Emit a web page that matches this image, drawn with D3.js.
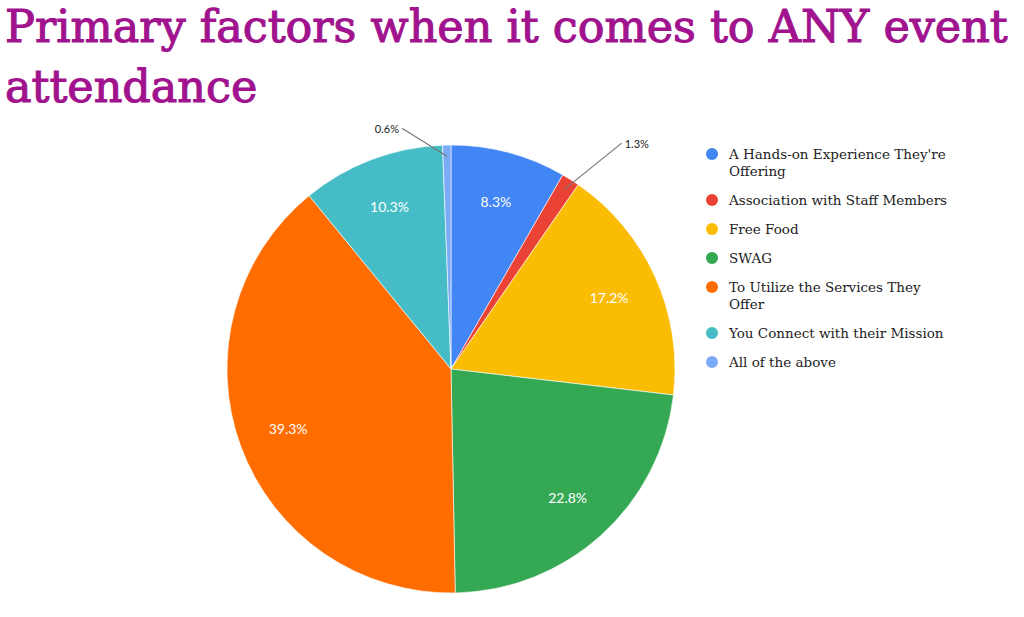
<!DOCTYPE html>
<html>
<head>
<meta charset="utf-8">
<script src="https://cdn.jsdelivr.net/npm/d3@7"></script>
<style>
  body { margin: 0; background: #fff; }
  svg { display: block; }
</style>
</head>
<body>
<svg id="chart" width="1024" height="617"></svg>
<script>
// data
var categorias = [
  "A Hands-on Experience They're Offering",
  "Association with Staff Members",
  "Free Food",
  "SWAG",
  "To Utilize the Services They Offer",
  "You Connect with their Mission",
  "All of the above"
];
var valores = [8.3, 1.3, 17.2, 22.8, 39.3, 10.3, 0.6];
var colores = ["#4285f4", "#ea4335", "#fbbc04", "#34a853", "#ff6d01", "#46bdc6", "#7baaf7"];
var tituloLineas = ["Primary factors when it comes to ANY event", "attendance"];

var svg = d3.select("#chart");

// titulo
var titulo = svg.append("g").attr("class", "titulo");
titulo.selectAll("text")
  .data(tituloLineas)
  .enter()
  .append("text")
  .attr("x", 5)
  .attr("y", function (d, i) { return 42 + i * 60; })
  .attr("fill", "#a1138e")
  .attr("stroke", "#a1138e")
  .attr("stroke-width", 1.1)
  .style("font-family", "'DejaVu Serif', serif")
  .style("font-size", "44px")
  .text(function (d) { return d; });

// ajustar tamaño para que la primera linea ocupe el ancho
var primera = titulo.select("text").node();
var largo = primera.getComputedTextLength();
var fs = 44 * 1003 / largo;
titulo.selectAll("text").style("font-size", fs + "px");

// pastel
var cx = 451, cy = 369, radio = 224;
var pie = d3.pie().sort(null).value(function (d) { return d; });
var arcos = pie(valores);
var arco = d3.arc().innerRadius(0).outerRadius(radio);

var g = svg.append("g").attr("transform", "translate(" + cx + "," + cy + ")");

g.selectAll("path")
  .data(arcos)
  .enter()
  .append("path")
  .attr("d", arco)
  .attr("fill", function (d, i) { return colores[i]; })
  .attr("stroke", "#fff")
  .attr("stroke-width", 0.6);

function medio(d) { return (d.startAngle + d.endAngle) / 2; }
function polar(a, r) { return [Math.sin(a) * r, -Math.cos(a) * r]; }

var fuenteEtiqueta = "Lato, 'Noto Sans', sans-serif";

// etiquetas dentro
g.selectAll("text.dentro")
  .data(arcos.filter(function (d) { return d.data >= 5; }))
  .enter()
  .append("text")
  .attr("class", "dentro")
  .attr("x", function (d) { return polar(medio(d), radio * 0.775)[0]; })
  .attr("y", function (d) { return polar(medio(d), radio * 0.775)[1]; })
  .attr("text-anchor", "middle")
  .attr("dominant-baseline", "central")
  .attr("fill", "#fff")
  .style("font-family", fuenteEtiqueta)
  .style("font-size", "14px")
  .text(function (d) { return d.data.toFixed(1) + "%"; });

// etiquetas fuera con linea guia
var chicas = arcos.filter(function (d) { return d.data < 5; });
chicas.forEach(function (d) {
  var a = medio(d);
  var lado = Math.sin(a) >= 0.05 ? 1 : -1;
  var ini = polar(a, radio * 0.95);
  var fin = [ini[0] + lado * 57, ini[1] - 46];
  if (lado < 0) fin = [ini[0] - 45, ini[1] - 28];
  g.append("line")
    .attr("x1", ini[0]).attr("y1", ini[1])
    .attr("x2", fin[0]).attr("y2", fin[1])
    .attr("stroke", "#777")
    .attr("stroke-width", 1.2);
  g.append("text")
    .attr("x", fin[0] + lado * 3)
    .attr("y", fin[1])
    .attr("text-anchor", lado > 0 ? "start" : "end")
    .attr("dominant-baseline", "central")
    .attr("fill", "#222")
    .style("font-family", fuenteEtiqueta)
    .style("font-size", "11px")
    .text(d.data.toFixed(1) + "%");
});

// leyenda
var leyenda = svg.append("g").attr("transform", "translate(712, 154)");
var yActual = 0;
var anchoMax = 224;
var alto = 17, paso = 29;

categorias.forEach(function (c, i) {
  var fila = leyenda.append("g").attr("transform", "translate(0," + yActual + ")");
  fila.append("circle")
    .attr("r", 6)
    .attr("fill", colores[i]);
  var t = fila.append("text")
    .attr("x", 17)
    .attr("y", 0)
    .attr("dominant-baseline", "central")
    .attr("fill", "#222")
    .style("font-family", "'DejaVu Serif', serif")
    .style("font-size", "13.5px");
  var palabras = c.split(" ");
  var linea = [];
  var lineas = 1;
  var tspan = t.append("tspan").attr("x", 17).attr("dy", 0);
  palabras.forEach(function (p) {
    linea.push(p);
    tspan.text(linea.join(" "));
    if (tspan.node().getComputedTextLength() > anchoMax && linea.length > 1) {
      linea.pop();
      tspan.text(linea.join(" "));
      linea = [p];
      tspan = t.append("tspan").attr("x", 17).attr("dy", alto).text(p);
      lineas++;
    }
  });
  yActual += paso + (lineas - 1) * alto;
});
</script>
</body>
</html>
